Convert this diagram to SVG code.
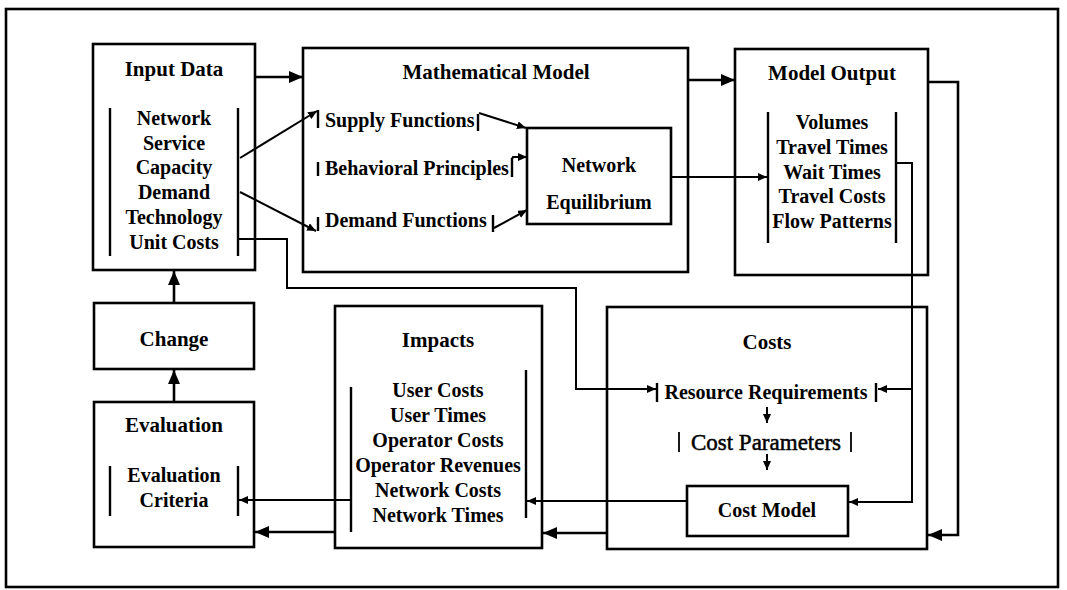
<svg xmlns="http://www.w3.org/2000/svg" width="1067" height="590" viewBox="0 0 1067 590">
<defs>
<marker id="big" viewBox="0 0 14 12" refX="14" refY="6" markerWidth="14" markerHeight="12" markerUnits="userSpaceOnUse" orient="auto"><path d="M0,0 L14,6 L0,12 z" fill="#000"/></marker>
<marker id="small" viewBox="0 0 9 8" refX="9" refY="4" markerWidth="9" markerHeight="8" markerUnits="userSpaceOnUse" orient="auto"><path d="M0,0 L9,4 L0,8 z" fill="#000"/></marker>
<style>
.box{fill:#fff;stroke:#000;stroke-width:2.6}
.bar{stroke:#000;stroke-width:2.4;fill:none}
.thin{stroke:#000;stroke-width:1.8;fill:none}
.c{fill:none;stroke:#000;stroke-width:2}
.cb{fill:none;stroke:#000;stroke-width:2.6}
text{font-family:"Liberation Serif","Times New Roman",serif;font-weight:bold;font-size:20px;fill:#000}
.t{font-size:21px;text-anchor:middle}
.m{text-anchor:middle}
.reg{font-weight:normal;font-size:23px;text-anchor:middle;stroke:#000;stroke-width:0.5}
</style>
</defs>
<rect x="0" y="0" width="1067" height="590" fill="#fff"/>
<rect x="6" y="9" width="1052" height="578" fill="none" stroke="#000" stroke-width="2.6"/>

<g id="input-data">
<rect class="box" x="93" y="44" width="162" height="226"/>
<text class="t" x="174" y="76">Input Data</text>
<line class="bar" x1="110" y1="108" x2="110" y2="256"/>
<line class="bar" x1="238" y1="108" x2="238" y2="256"/>
<text class="m" x="174" y="125">Network</text>
<text class="m" x="174" y="150">Service</text>
<text class="m" x="174" y="174">Capacity</text>
<text class="m" x="174" y="199">Demand</text>
<text class="m" x="174" y="224">Technology</text>
<text class="m" x="174" y="249">Unit Costs</text>
</g>

<g id="mathematical-model">
<rect class="box" x="303" y="48" width="385" height="224"/>
<text class="t" x="496" y="79">Mathematical Model</text>
<line class="bar" x1="318" y1="110" x2="318" y2="128"/>
<text x="325" y="127">Supply Functions</text>
<line class="bar" x1="478" y1="114" x2="478" y2="131"/>
<line class="bar" x1="318" y1="162" x2="318" y2="176"/>
<text x="325" y="175">Behavioral Principles</text>
<line class="bar" x1="512" y1="158" x2="512" y2="177"/>
<line class="bar" x1="318" y1="217" x2="318" y2="231"/>
<text x="325" y="227">Demand Functions</text>
<line class="bar" x1="493" y1="215" x2="493" y2="232"/>
</g>

<g id="network-equilibrium">
<rect class="box" x="527" y="128" width="144" height="96"/>
<text class="m" x="599" y="172">Network</text>
<text class="m" x="599" y="209">Equilibrium</text>
</g>

<g id="model-output">
<rect class="box" x="735" y="49" width="193" height="226"/>
<text class="t" x="832" y="80">Model Output</text>
<line class="bar" x1="768" y1="112" x2="768" y2="243"/>
<line class="bar" x1="896" y1="112" x2="896" y2="243"/>
<text class="m" x="832" y="129">Volumes</text>
<text class="m" x="832" y="154">Travel Times</text>
<text class="m" x="832" y="179">Wait Times</text>
<text class="m" x="832" y="203">Travel Costs</text>
<text class="m" x="832" y="228">Flow Patterns</text>
</g>

<g id="change">
<rect class="box" x="94" y="303" width="160" height="66"/>
<text class="t" x="174" y="346">Change</text>
</g>

<g id="evaluation">
<rect class="box" x="94" y="402" width="160" height="145"/>
<text class="t" x="174" y="432">Evaluation</text>
<line class="bar" x1="110" y1="466" x2="110" y2="516"/>
<line class="bar" x1="238" y1="466" x2="238" y2="516"/>
<text class="m" x="174" y="482">Evaluation</text>
<text class="m" x="174" y="507">Criteria</text>
</g>

<g id="impacts">
<rect class="box" x="335" y="306" width="207" height="242"/>
<text class="t" x="438" y="347">Impacts</text>
<line class="bar" x1="351" y1="387" x2="351" y2="532"/>
<line class="bar" x1="526" y1="370" x2="526" y2="518"/>
<text class="m" x="438" y="397">User Costs</text>
<text class="m" x="438" y="422">User Times</text>
<text class="m" x="438" y="447">Operator Costs</text>
<text class="m" x="438" y="472">Operator Revenues</text>
<text class="m" x="438" y="497">Network Costs</text>
<text class="m" x="438" y="522">Network Times</text>
</g>

<g id="costs">
<rect class="box" x="607" y="307" width="320" height="242"/>
<text class="t" x="767" y="349">Costs</text>
<line class="bar" x1="657" y1="383" x2="657" y2="402"/>
<text class="m" x="766" y="399">Resource Requirements</text>
<line class="bar" x1="876" y1="383" x2="876" y2="402"/>
<line class="thin" x1="679" y1="432" x2="679" y2="452"/>
<text class="reg" x="766" y="450">Cost Parameters</text>
<line class="thin" x1="851" y1="432" x2="851" y2="452"/>
</g>

<g id="cost-model">
<rect class="box" x="687" y="486" width="161" height="50"/>
<text class="m" x="767" y="517">Cost Model</text>
</g>

<g id="connectors">
<path class="cb" d="M255,77 H303" marker-end="url(#big)"/>
<path class="cb" d="M688,80 H735" marker-end="url(#big)"/>
<path class="c" d="M240,158 L317,111" marker-end="url(#small)"/>
<path class="c" d="M240,192 L316,231" marker-end="url(#small)"/>
<path class="c" d="M479,113 L526,128" marker-end="url(#small)"/>
<path class="c" d="M512,159 L513,157 H527" marker-end="url(#small)"/>
<path class="c" d="M494,228 L527,210" marker-end="url(#small)"/>
<path class="c" d="M671,177 H767" marker-end="url(#small)"/>
<path class="c" d="M896,163 H912 V502 H849" marker-end="url(#small)"/>
<path class="c" d="M912,389 H878" marker-end="url(#small)"/>
<path class="cb" d="M928,82 H958 V535 H928" marker-end="url(#big)"/>
<path class="c" d="M238,239 H287 V288 H576 V389 H656" marker-end="url(#small)"/>
<path class="c" d="M767,407 V423" marker-end="url(#small)"/>
<path class="c" d="M767,454 V470" marker-end="url(#small)"/>
<path class="c" d="M687,501 H527" marker-end="url(#small)"/>
<path class="cb" d="M607,533 H543" marker-end="url(#big)"/>
<path class="c" d="M351,500 H239" marker-end="url(#small)"/>
<path class="cb" d="M335,532 H255" marker-end="url(#big)"/>
<path class="cb" d="M174,402 V370" marker-end="url(#big)"/>
<path class="cb" d="M174,303 V271" marker-end="url(#big)"/>
</g>
</svg>
